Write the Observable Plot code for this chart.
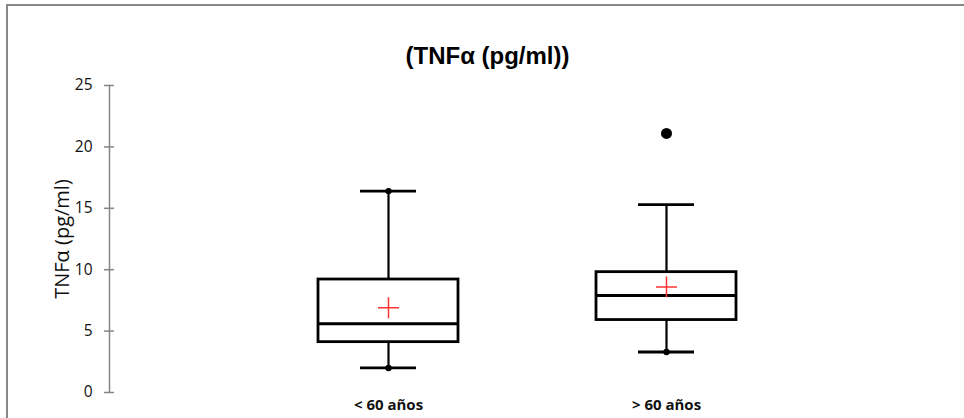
<!DOCTYPE html>
<html>
<head>
<meta charset="utf-8">
<script src="https://cdn.jsdelivr.net/npm/d3@7"></script>
<script src="https://cdn.jsdelivr.net/npm/@observablehq/plot@0.6"></script>
<style>
  html, body { margin: 0; padding: 0; background: #fff; }
  #wrap { position: relative; width: 964px; height: 418px; overflow: hidden; }
  #border { position: absolute; left: 6px; top: 4px; right: -4px; bottom: -4px;
            border-left: 2px solid #878787; border-top: 2px solid #878787; }
  #chart { position: absolute; left: 0; top: 0; }
</style>
</head>
<body>
<div id="wrap"><div id="border"></div><div id="chart"></div></div>
<script>
const title = "(TNFα (pg/ml))";
const yLabel = "TNFα (pg/ml)";
const groups = ["< 60 años", "> 60 años"];
const minimum = [2.0, 3.3];
const q1 = [4.1, 5.9];
const median = [5.6, 7.9];
const q3 = [9.2, 9.8];
const whiskerHigh = [16.4, 15.3];
const maximum = [16.4, 21.1];
const mean = [6.9, 8.6];
const yTicks = [0, 5, 10, 15, 20, 25];

const rows = groups.map((g, i) => ({
  group: g, min: minimum[i], q1: q1[i], median: median[i], q3: q3[i],
  hi: whiskerHigh[i], max: maximum[i], mean: mean[i]
}));
const outlierRows = rows.filter(d => d.max > d.hi);
const maxDotRows = rows.filter(d => d.max <= d.hi);

const textFont = "'Open Sans', sans-serif";

const chart = Plot.plot({
  width: 964,
  height: 418,
  marginLeft: 109,
  marginRight: 99,
  marginTop: 85,
  marginBottom: 26,
  style: { fontFamily: textFont, background: "transparent", overflow: "visible" },
  x: { type: "band", domain: groups, range: [249, 805], padding: 0, axis: null },
  y: { domain: [0, 25], axis: null },
  marks: [
    Plot.frame({ anchor: "left", stroke: "#868686", strokeWidth: 1.5 }),
    Plot.axisY({ ticks: yTicks, tickSize: 10, dx: 5, tickFormat: () => "", stroke: "#868686", strokeWidth: 1.5, label: null }),
    Plot.axisY({ ticks: yTicks, tickSize: 0, tickPadding: 17, fontSize: 15.5, fill: "#111", label: null }),
    Plot.axisX({ tickSize: 0, tickPadding: 7, fontSize: 15, fontWeight: "bold", fill: "#111", label: null }),
    Plot.ruleX(rows, { x: "group", y1: "q3", y2: "hi", stroke: "#000", strokeWidth: 2.2 }),
    Plot.ruleX(rows, { x: "group", y1: "min", y2: "q1", stroke: "#000", strokeWidth: 2.2 }),
    Plot.tickY(rows, { x: "group", y: "hi", inset: 111, stroke: "#000", strokeWidth: 2.8 }),
    Plot.tickY(rows, { x: "group", y: "min", inset: 111, stroke: "#000", strokeWidth: 2.8 }),
    Plot.barY(rows, { x: "group", y1: "q1", y2: "q3", insetLeft: 69, insetRight: 69, fill: "#fff", stroke: "#000", strokeWidth: 2.8 }),
    Plot.tickY(rows, { x: "group", y: "median", inset: 69, stroke: "#000", strokeWidth: 2.8 }),
    Plot.dot(rows, { x: "group", y: "min", r: 3.2, fill: "#000" }),
    Plot.dot(maxDotRows, { x: "group", y: "max", r: 3.2, fill: "#000" }),
    Plot.dot(outlierRows, { x: "group", y: "max", r: 5.5, fill: "#000" }),
    Plot.dot(rows, { x: "group", y: "mean", symbol: "plus", r: 6.8, stroke: "#ff3333", strokeWidth: 1.5 }),
    Plot.text([title], { frameAnchor: "top", dy: -39, fontSize: 24, fontWeight: "bold", fontFamily: "'Liberation Sans', Arial, sans-serif", fill: "#000" }),
    Plot.text([yLabel], { frameAnchor: "left", textAnchor: "middle", rotate: -90, dx: -47, fontSize: 20, fill: "#111" })
  ]
});
document.getElementById("chart").appendChild(chart);
</script>
</body>
</html>
